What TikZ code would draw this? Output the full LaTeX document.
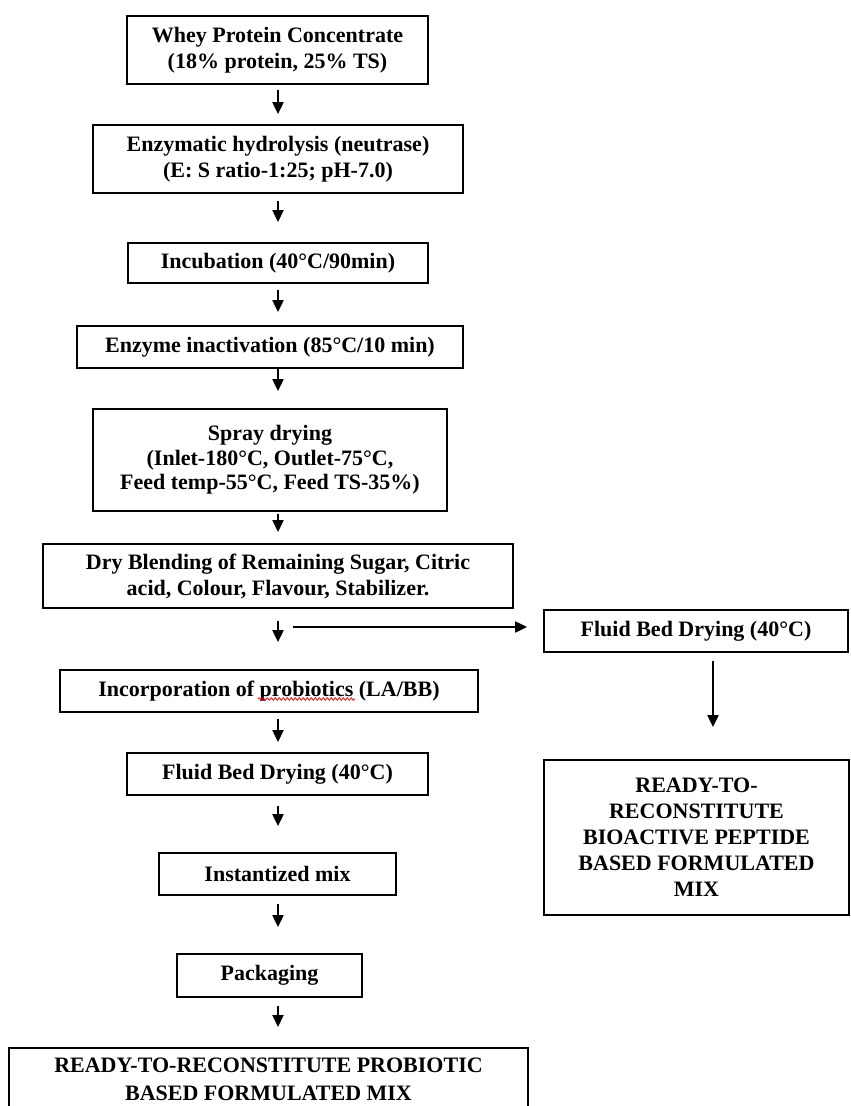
\documentclass[tikz,border=0pt]{standalone}
\usepackage{fontspec}
\setmainfont{Liberation Serif}
\usetikzlibrary{arrows.meta,decorations.pathmorphing}
\begin{document}
\begin{tikzpicture}[x=1pt,y=-1pt,
  box/.style={draw=black, line width=1.8pt, fill=white, align=center, inner sep=0pt,
              font=\fontsize{22}{26}\selectfont\bfseries},
  lbl/.style={align=center, inner sep=0pt, font=\fontsize{22}{28}\selectfont\bfseries},
  arr/.style={line width=2pt, -{Triangle[width=11pt,length=12pt]}},
  squig/.style={red, line width=0.8pt, decorate,
                decoration={snake, amplitude=1.2pt, segment length=4pt}}]
\clip (0,0) rectangle (851,1106);
\fill[white] (0,0) rectangle (851,1106);

% column coordinates
\coordinate (colx) at (278,0);
\coordinate (rcol) at (713,0);

% left column
\node[box, minimum width=301pt, minimum height=68pt] (whey) at (277.5,50)
  {Whey Protein Concentrate\\(18\% protein, 25\% TS)};
\node[box, minimum width=370pt, minimum height=68pt] (enz) at (278,159)
  {Enzymatic hydrolysis (neutrase)\\(E: S ratio-1:25; pH-7.0)};
\node[box, minimum width=300pt, minimum height=40pt] (inc) at (278,263)
  {Incubation (40°C/90min)};
\node[box, minimum width=386pt, minimum height=42pt] (inact) at (270,347)
  {Enzyme inactivation (85°C/10 min)};
\node[box, font=\fontsize{22}{24.5}\selectfont\bfseries, minimum width=354pt, minimum height=102pt] (spray) at (270,460)
  {Spray drying\\(Inlet-180°C, Outlet-75°C,\\Feed temp-55°C, Feed TS-35\%)};
\node[box, minimum width=470pt, minimum height=64pt] (blend) at (278,576)
  {Dry Blending of Remaining Sugar, Citric\\acid, Colour, Flavour, Stabilizer.};
\node[box, minimum width=418pt, minimum height=42pt] (incorp) at (269,691)
  {Incorporation of probiotics (LA/BB)};
\node[box, minimum width=301pt, minimum height=42pt] (fbd) at (277.5,774)
  {Fluid Bed Drying (40°C)};
\node[box, minimum width=237pt, minimum height=42pt] (inst) at (277.5,874)
  {Instantized mix};
\node[box, minimum width=185pt, minimum height=43pt] (pack) at (269.5,975.5)
  {Packaging};
\node[box, minimum width=519pt, minimum height=90pt, anchor=north] (final) at (268.5,1047) {};
\node[lbl] (finaltxt) at (268.5,1079)
  {READY-TO-RECONSTITUTE PROBIOTIC\\BASED FORMULATED MIX};

% right column
\node[box, minimum width=304pt, minimum height=42pt] (rfbd) at (696,631)
  {Fluid Bed Drying (40°C)};
\node[box, minimum width=305pt, minimum height=155pt] (rmix) at (696.5,837.5)
  {READY-TO-\\RECONSTITUTE\\BIOACTIVE PEPTIDE\\BASED FORMULATED\\MIX};

% spell-check underline
\coordinate (sqa) at (258,699);
\coordinate (sqb) at (355,699);
\draw[squig] (sqa) -- (sqb);

% arrows
\draw[arr, shorten <=5pt, shorten >=10pt] (whey.south -| colx) -- (enz.north -| colx);
\draw[arr, shorten <=7pt, shorten >=20pt] (enz.south -| colx) -- (inc.north -| colx);
\draw[arr, shorten <=6pt, shorten >=13pt] (inc.south -| colx) -- (inact.north -| colx);
\draw[arr, shorten <=0pt, shorten >=17pt] (inact.south -| colx) -- (spray.north -| colx);
\draw[arr, shorten <=2pt, shorten >=11pt] (spray.south -| colx) -- (blend.north -| colx);
\draw[arr, shorten <=12pt, shorten >=27pt] (blend.south -| colx) -- (incorp.north -| colx);
\draw[arr, shorten <=6pt, shorten >=10pt] (incorp.south -| colx) -- (fbd.north -| colx);
\draw[arr, shorten <=10pt, shorten >=26pt] (fbd.south -| colx) -- (inst.north -| colx);
\draw[arr, shorten <=8pt, shorten >=26pt] (inst.south -| colx) -- (pack.north -| colx);
\draw[arr, shorten <=8pt, shorten >=20pt] (pack.south -| colx) -- (final.north -| colx);

\coordinate (hstart) at (293,627);
\draw[arr, shorten >=16pt] (hstart) -- (rfbd.west |- hstart);
\draw[arr, shorten <=8pt, shorten >=32pt] (rfbd.south -| rcol) -- (rmix.north -| rcol);
\end{tikzpicture}
\end{document}
